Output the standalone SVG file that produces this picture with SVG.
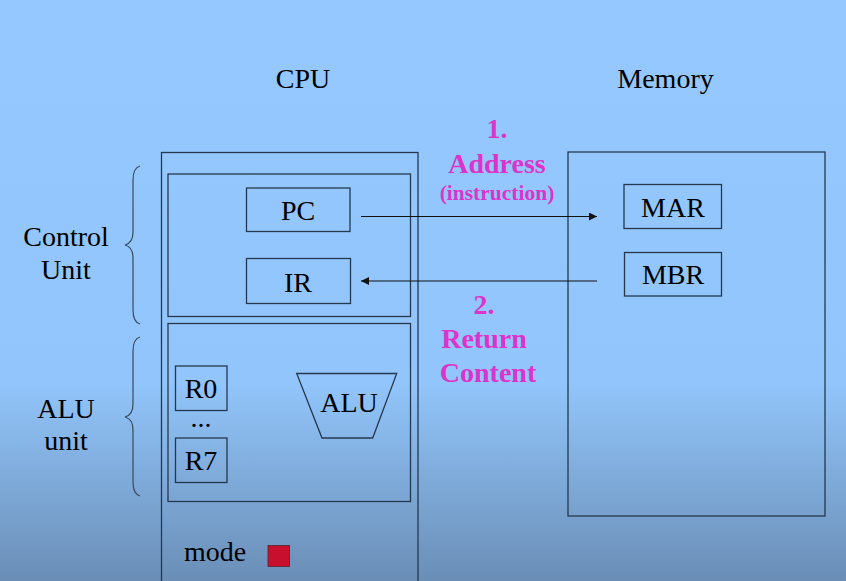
<svg xmlns="http://www.w3.org/2000/svg" width="846" height="581" viewBox="0 0 846 581">
<defs>
<linearGradient id="bg" x1="0" y1="0" x2="0" y2="1">
<stop offset="0" stop-color="#94C8FE"/>
<stop offset="0.66" stop-color="#92C5FB"/>
<stop offset="1" stop-color="#6A8EB6"/>
</linearGradient>
<marker id="ah" viewBox="0 0 10 10" refX="10" refY="5" markerWidth="10" markerHeight="8" markerUnits="userSpaceOnUse" orient="auto">
<path d="M0,0 L10,5 L0,10 z" fill="#111"/>
</marker>
</defs>
<style>
.box{fill:none;stroke:#26384e;stroke-width:1.3}
.t{font-family:"Liberation Serif","Times New Roman",serif;font-size:28px;fill:#000;text-anchor:middle}
.m{font-family:"Liberation Serif","Times New Roman",serif;font-size:28px;font-weight:bold;fill:#DD33CC;text-anchor:middle}
.br{fill:none;stroke:#3a4a5c;stroke-width:1.2}
.ln{fill:none;stroke:#111;stroke-width:1.2}
</style>
<rect x="0" y="0" width="846" height="581" fill="url(#bg)"/>

<text class="t" x="303" y="88">CPU</text>
<text class="t" x="665.5" y="88">Memory</text>

<g id="control-label">
<text class="t" x="66" y="246">Control</text>
<text class="t" x="66" y="279">Unit</text>
<path class="br" d="M140,166 Q133,168 133,180 L133,232 Q133,243 125,245 Q133,247 133,258 L133,310 Q133,322 140,324"/>
</g>
<g id="alu-label">
<text class="t" x="66" y="418">ALU</text>
<text class="t" x="66" y="450">unit</text>
<path class="br" d="M140,337 Q133,339 133,351 L133,404 Q133,415 125,417 Q133,419 133,430 L133,482 Q133,494 140,496"/>
</g>

<g id="cpu">
<rect class="box" x="161.5" y="152.5" width="256.5" height="440"/>
</g>
<g id="control-unit">
<rect class="box" x="168" y="174" width="242.5" height="142.5"/>
</g>
<g id="pc">
<rect class="box" x="246.5" y="188" width="103.5" height="43.5"/>
<text class="t" x="298" y="220">PC</text>
</g>
<g id="ir">
<rect class="box" x="246.5" y="258.5" width="104" height="45"/>
<text class="t" x="298" y="292">IR</text>
</g>
<g id="alu-unit">
<rect class="box" x="168" y="323.5" width="242.5" height="178"/>
</g>
<g id="r0">
<rect class="box" x="175.5" y="366" width="51.5" height="44.5"/>
<text class="t" x="201" y="398">R0</text>
</g>
<text class="t" x="201" y="427">...</text>
<g id="r7">
<rect class="box" x="175.5" y="438" width="51.5" height="44.5"/>
<text class="t" x="201" y="470">R7</text>
</g>
<g id="alu">
<polygon class="box" points="296.7,373.5 396.7,373.5 372.7,438 322,438"/>
<text class="t" x="349" y="412">ALU</text>
</g>
<g id="mode">
<text class="t" x="184" y="561" style="text-anchor:start">mode</text>
<rect x="268" y="545.5" width="21.5" height="21" fill="#C8102E" stroke="#5a2030" stroke-width="0.8"/>
</g>

<g id="memory">
<rect class="box" x="568" y="152" width="257" height="364"/>
</g>
<g id="mar">
<rect class="box" x="624" y="184.5" width="97.5" height="44"/>
<text class="t" x="673" y="217">MAR</text>
</g>
<g id="mbr">
<rect class="box" x="624.5" y="252.5" width="97" height="43.5"/>
<text class="t" x="673" y="284">MBR</text>
</g>

<g id="connectors">
<line class="ln" x1="361" y1="216.5" x2="597" y2="216.5" marker-end="url(#ah)"/>
<line class="ln" x1="597" y1="281" x2="361" y2="281" marker-end="url(#ah)"/>
</g>

<g id="labels">
<text class="m" x="497" y="138">1.</text>
<text class="m" x="497" y="173">Address</text>
<text class="m" x="497" y="200" style="font-size:21.5px">(instruction)</text>
<text class="m" x="484" y="314">2.</text>
<text class="m" x="484" y="348">Return</text>
<text class="m" x="488" y="382">Content</text>
</g>
</svg>
